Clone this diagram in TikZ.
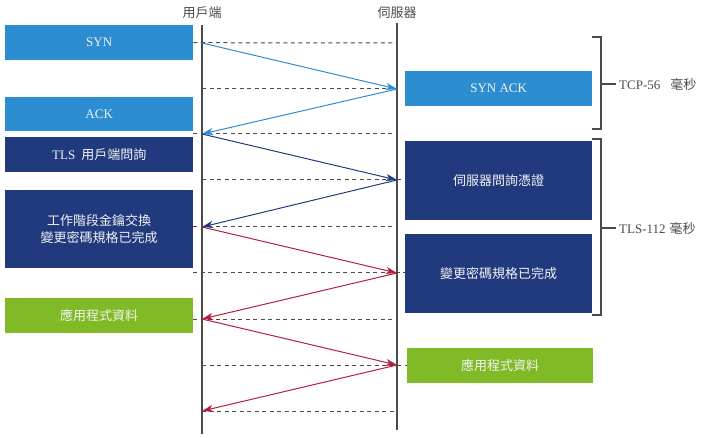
\documentclass[tikz,border=0pt]{standalone}
\usepackage{fontspec}
\setmainfont{Liberation Serif}
\newfontfamily\cjk{Noto Sans CJK TC}
\usetikzlibrary{arrows.meta}
\definecolor{synblue}{RGB}{44,142,208}
\definecolor{tlsblue}{RGB}{33,58,126}
\definecolor{appgreen}{RGB}{128,186,39}
\definecolor{msgred}{RGB}{180,32,62}
\definecolor{linegray}{RGB}{75,75,75}
\tikzset{msgbox/.style={anchor=north west,inner sep=0pt,minimum width=188pt,text=white!90!gray,font=\fontsize{13}{17}\selectfont,align=center}, lifelabel/.style={text=linegray,font=\cjk\fontsize{13}{15}\selectfont,inner sep=2pt}, lifeline/.style={draw=linegray,line width=1.2pt}, dashline/.style={draw=linegray,line width=1pt,dash pattern=on 4pt off 3.5pt}, msg/.style={line width=1pt,-{Stealth[length=11pt,width=7pt,inset=3pt]}}, bracket/.style={draw=linegray,line width=1.2pt}, bracketlabel/.style={anchor=west,text=linegray,font=\fontsize{13}{15}\selectfont,inner sep=3pt}}

\begin{document}
\begin{tikzpicture}[x=1pt,y=-1pt]
\useasboundingbox (0,0) rectangle (712,438);
% lifelines
\node[lifelabel] (client) at (202,13) {用戶端};
\node[lifelabel] (server) at (397,13) {伺服器};
\coordinate (ctop) at (202,25); \coordinate (cbot) at (202,434);
\coordinate (stop) at (397,23); \coordinate (sbot) at (397,430);
\draw[lifeline] (ctop) -- (cbot);
\draw[lifeline] (stop) -- (sbot);
\foreach \i/\y in {1/43,2/89,3/134,4/180,5/227,6/273,7/319,8/365,9/411} {
 \coordinate (c\i) at (202,\y); \coordinate (s\i) at (397,\y);
}
% client side
\node[msgbox,fill=synblue,minimum height=35pt] (syn) at (5,25) {SYN};
\node[msgbox,fill=synblue,minimum height=34pt] (ack) at (5,97) {ACK};
\node[msgbox,fill=tlsblue,minimum height=35pt] (hello) at (5,137) {TLS\hspace{6pt}{\cjk 用戶端問詢}};
\node[msgbox,fill=tlsblue,minimum height=78pt] (key) at (5,190) {{\cjk 工作階段金鑰交換}\\{\cjk 變更密碼規格已完成}};
\node[msgbox,fill=appgreen,minimum height=35pt] (app) at (5,298) {\cjk 應用程式資料};
% server side
\node[msgbox,fill=synblue,minimum width=187pt,minimum height=35pt] (synack) at (405,71) {SYN ACK};
\node[msgbox,fill=tlsblue,minimum width=187pt,minimum height=79pt] (cert) at (405,141) {\cjk 伺服器問詢憑證};
\node[msgbox,fill=tlsblue,minimum width=187pt,minimum height=79pt] (chg) at (405,234) {\cjk 變更密碼規格已完成};
\node[msgbox,fill=appgreen,minimum width=186pt,minimum height=35pt] (sapp) at (407,348) {\cjk 應用程式資料};
% dashed time marks
\draw[dashline] (syn.east) -- (s1);
\draw[dashline] (c2) -- (s2);
\draw[dashline] (ack.east |- c3) -- (s3);
\draw[dashline] (c4) -- (cert.west |- s4);
\draw[dashline] (key.east |- c5) -- (s5);
\draw[dashline] (key.east |- c6) -- (chg.west |- s6);
\draw[dashline] (app.east |- c7) -- (s7);
\draw[dashline] (c8) -- (sapp.west |- s8);
\draw[dashline] (c9) -- (s9);
% messages
\draw[msg,synblue] (c1) -- (s2);
\draw[msg,synblue] (s2) -- (c3);
\draw[msg,tlsblue] (c3) -- (s4);
\draw[msg,tlsblue] (s4) -- (c5);
\draw[msg,msgred] (c5) -- (s6);
\draw[msg,msgred] (s6) -- (c7);
\draw[msg,msgred] (c7) -- (s8);
\draw[msg,msgred] (s8) -- (c9);
% brackets
\draw[bracket] (592,37) -| (601,129) -- (592,129);
\draw[bracket] (592,139) -| (601,315) -- (592,315);
\node[bracketlabel] (tcp) at (616,84) {TCP-56\hspace{10pt}{\cjk 毫秒}};
\node[bracketlabel] (tls) at (616,228) {TLS-112\hspace{4pt}{\cjk 毫秒}};
\draw[bracket] (601,84) -- (tcp.west);
\draw[bracket] (601,228) -- (tls.west);
\end{tikzpicture}
\end{document}
